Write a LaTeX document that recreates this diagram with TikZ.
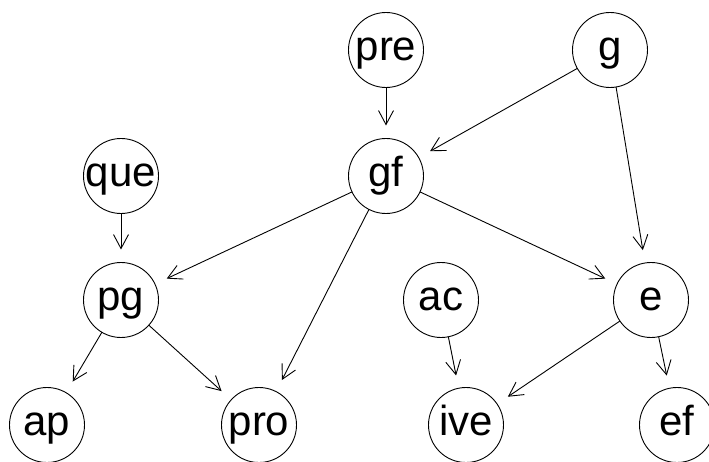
\documentclass[tikz,border=0pt]{standalone}
\usepackage{fontspec}
\setmainfont{Liberation Sans}
\usepackage{tikz}
\usetikzlibrary{arrows.meta}

\begin{document}
\begin{tikzpicture}[
    x=1pt, y=-1pt,
    vtx/.style={circle, draw=black, line width=0.9pt, minimum size=75pt, inner sep=0pt, outer sep=0pt,
      font=\fontsize{42}{42}\selectfont, text height=21pt, text depth=0pt},
    edge/.style={-{Straight Barb[length=14pt, width=15pt]}, line width=0.9pt, shorten >=13pt},
  ]
    \useasboundingbox (0,0) rectangle (709,462);
    \node[vtx] (pre) at (386,50) {pre};
    \node[vtx] (g) at (610,50) {g};
    \node[vtx] (que) at (121,176) {que};
    \node[vtx] (gf) at (386,176) {gf};
    \node[vtx] (pg) at (121,300) {pg};
    \node[vtx] (ac) at (441,300) {ac};
    \node[vtx] (e) at (651,300) {e};
    \node[vtx] (ap) at (47,425) {ap};
    \node[vtx] (pro) at (259,425) {pro};
    \node[vtx] (ive) at (466,425) {ive};
    \node[vtx] (ef) at (677,425) {ef};
    % Edges
    \draw[edge] (pre) -- (gf);
    \draw[edge] (g) -- (gf);
    \draw[edge] (g) -- (e);
    \draw[edge] (que) -- (pg);
    \draw[edge] (gf) -- (pg);
    \draw[edge] (gf) -- (pro);
    \draw[edge] (gf) -- (e);
    \draw[edge] (pg) -- (ap);
    \draw[edge] (pg) -- (pro);
    \draw[edge] (ac) -- (ive);
    \draw[edge] (e) -- (ive);
    \draw[edge] (e) -- (ef);
  \end{tikzpicture}
\end{document}
